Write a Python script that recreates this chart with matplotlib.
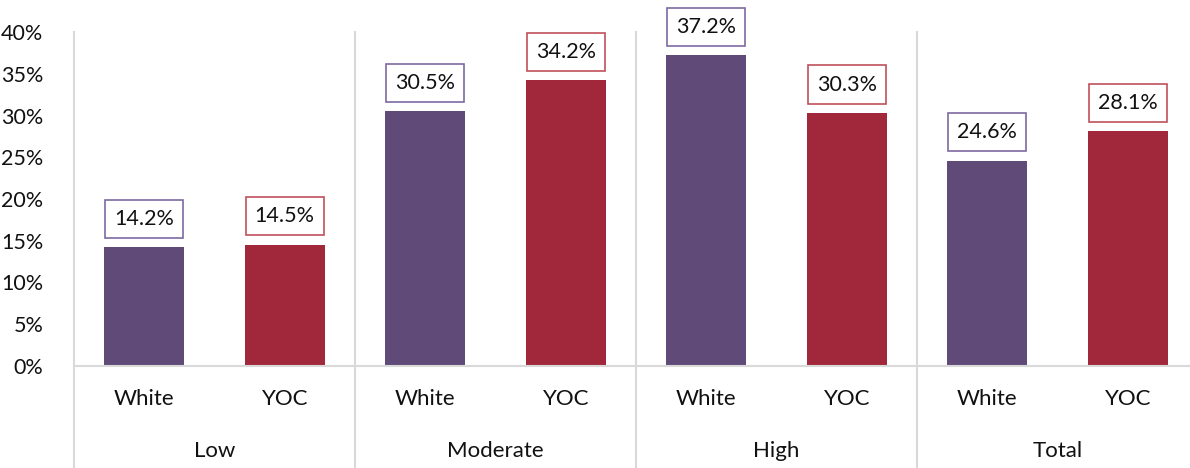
import numpy as np
import matplotlib.pyplot as plt
import matplotlib.transforms as mtransforms
from matplotlib.lines import Line2D

plt.rcParams['font.family'] = ['Lato', 'DejaVu Sans']

groups = ['Low', 'Moderate', 'High', 'Total']
series = ['White', 'YOC']
white_vals = [14.2, 30.5, 37.2, 24.6]
yoc_vals = [14.5, 34.2, 30.3, 28.1]

bar_colors = ['#5f4a78', '#a0283a']
edge_colors = ['#7e68a0', '#c0505c']
grid_color = '#d9d9d9'

W, H = 1190, 468
fig = plt.figure(figsize=(W / 100, H / 100), dpi=100)
ax = fig.add_axes([74 / W, (H - 366) / H, (1198 - 74) / W, (366 - 32) / H])

x_white = np.arange(len(groups)) * 2 + 0.5
x_yoc = x_white + 1
bw = 0.57

for xs, vals, c, ec in [(x_white, white_vals, bar_colors[0], edge_colors[0]),
                        (x_yoc, yoc_vals, bar_colors[1], edge_colors[1])]:
    ax.bar(xs, vals, width=bw, color=c, zorder=2)
    for x, v in zip(xs, vals):
        ax.annotate(f'{v:.1f}%', (x, v), xytext=(0, 20.5), textcoords='offset points',
                    ha='center', va='center', fontsize=15.5, color='#111111',
                    bbox=dict(boxstyle='square,pad=0.42', fc='white', ec=ec, lw=1.2))

ax.set_xlim(0, 8)
ax.set_ylim(0, 40)
ax.set_yticks(range(0, 41, 5))
ax.set_yticklabels([f'{t}%' for t in range(0, 41, 5)], fontsize=15.5, color='#111111')
ax.tick_params(axis='y', length=0, pad=22)
ax.set_xticks([])

for s in ['top', 'right', 'left']:
    ax.spines[s].set_visible(False)
ax.spines['bottom'].set_color(grid_color)
ax.spines['bottom'].set_linewidth(1.5)

# category separators reaching into the label area
bottom = -(H - 366) / (366 - 32)
trans = mtransforms.blended_transform_factory(ax.transData, ax.transAxes)
for xv in [0, 2, 4, 6]:
    ax.add_line(Line2D([xv, xv], [1, bottom - 0.05], transform=trans, color=grid_color,
                       lw=1.5, clip_on=False, zorder=0))

# sub-category and group labels
for x in x_white:
    ax.text(x, -0.1, 'White', transform=trans, ha='center', va='center', fontsize=16, color='#111111')
for x in x_yoc:
    ax.text(x, -0.1, 'YOC', transform=trans, ha='center', va='center', fontsize=16, color='#111111')
for i, g in enumerate(groups):
    ax.text(i * 2 + 1, -0.255, g, transform=trans, ha='center', va='center', fontsize=16, color='#111111')

fig.savefig('out.png', dpi=100)
